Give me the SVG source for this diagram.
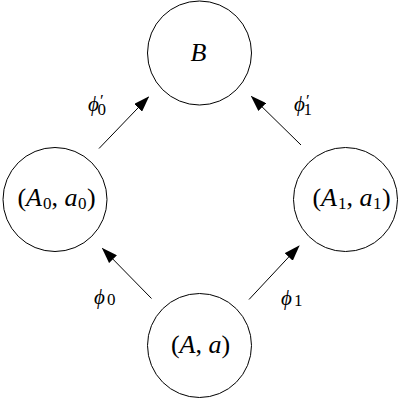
<svg xmlns="http://www.w3.org/2000/svg" width="400" height="400" viewBox="0 0 400 400">
<style>
.node{fill:#fff;stroke:#000;stroke-width:1}
.lbl{font-family:"Liberation Serif","DejaVu Serif",serif;font-size:26px;fill:#000}
.elbl{font-family:"Liberation Serif","DejaVu Serif",serif;font-size:21px;fill:#000}
.it{font-style:italic}
.sub{font-size:17px;font-style:normal}
.edge{stroke:#000;stroke-width:1;fill:none;marker-end:url(#ah)}
</style>
<defs>
<marker id="ah" viewBox="0 0 16 11" refX="15" refY="5.5" markerWidth="16" markerHeight="11" markerUnits="userSpaceOnUse" orient="auto">
<path d="M0,0 L16,5.5 L0,11 z" fill="#000"/>
</marker>
</defs>
<g id="node-B">
<circle class="node" cx="199.5" cy="53" r="52"/>
<text class="lbl it" x="198.5" y="61" text-anchor="middle">B</text>
</g>
<g id="node-A0a0">
<circle class="node" cx="55" cy="199.5" r="52"/>
<text class="lbl" x="56.5" y="205.5" text-anchor="middle">(<tspan class="it">A</tspan><tspan class="sub" dx="1" dy="3.5">0</tspan><tspan dy="-3.5">, </tspan><tspan class="it">a</tspan><tspan class="sub" dx="0.5" dy="3.5">0</tspan><tspan dx="0.5" dy="-3.5">)</tspan></text>
</g>
<g id="node-A1a1">
<circle class="node" cx="345.5" cy="199.5" r="52"/>
<text class="lbl" x="351.5" y="205.5" text-anchor="middle">(<tspan class="it">A</tspan><tspan class="sub" dx="1" dy="3.5">1</tspan><tspan dy="-3.5">, </tspan><tspan class="it">a</tspan><tspan class="sub" dx="0.5" dy="3.5">1</tspan><tspan dx="0.5" dy="-3.5">)</tspan></text>
</g>
<g id="node-Aa">
<circle class="node" cx="199.5" cy="345.5" r="52"/>
<text class="lbl" x="200.5" y="352.5" text-anchor="middle">(<tspan class="it">A</tspan>, <tspan class="it">a</tspan>)</text>
</g>
<g id="connectors">
<line class="edge" x1="99" y1="148.5" x2="148.5" y2="97"/>
<line class="edge" x1="301" y1="145" x2="251.5" y2="96.5"/>
<line class="edge" x1="151.5" y1="298.5" x2="102.5" y2="248.5"/>
<line class="edge" x1="249" y1="299.5" x2="299" y2="246"/>
<text class="elbl it" x="88" y="110.5">ϕ<tspan font-style="normal" dx="1" dy="-5" font-size="17">′</tspan><tspan class="sub" dx="-6" dy="9.5">0</tspan></text>
<text class="elbl it" x="294" y="110.5">ϕ<tspan font-style="normal" dx="1" dy="-5" font-size="17">′</tspan><tspan class="sub" dx="-6" dy="9.5">1</tspan></text>
<text class="elbl it" x="94" y="304">ϕ<tspan class="sub" dx="2" dy="1">0</tspan></text>
<text class="elbl it" x="281" y="305">ϕ<tspan class="sub" dx="2" dy="1">1</tspan></text>
</g>
</svg>
